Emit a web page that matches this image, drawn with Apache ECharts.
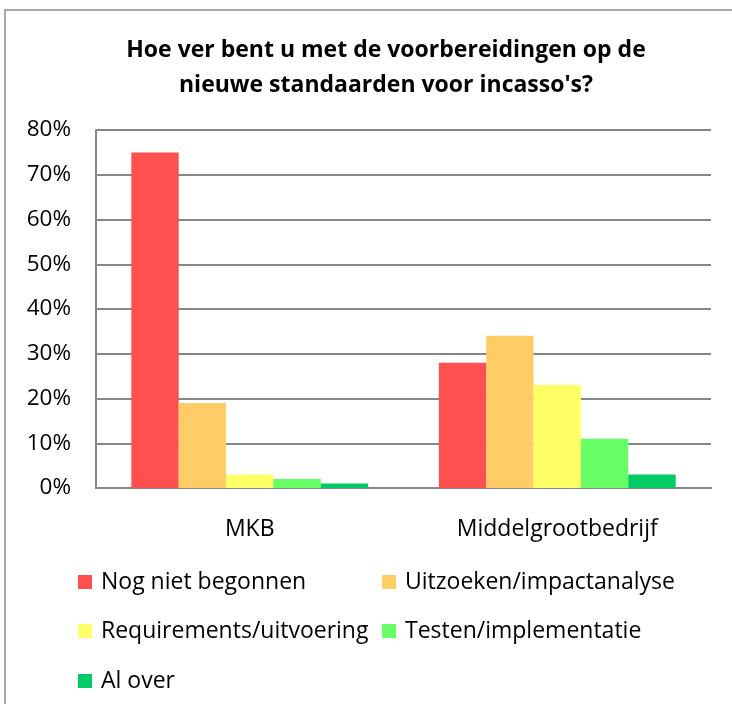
<!DOCTYPE html>
<html>
<head>
<meta charset="utf-8">
<script src="https://cdn.jsdelivr.net/npm/echarts@6/dist/echarts.min.js"></script>
<style>
  html, body { margin: 0; padding: 0; background: #fff; }
  #chart { width: 732px; height: 704px; }
</style>
</head>
<body>
<div id="chart"></div>
<script>
const categories = ['MKB', 'Middelgrootbedrijf']
const seriesNames = ['Nog niet begonnen', 'Uitzoeken/impactanalyse', 'Requirements/uitvoering', 'Testen/implementatie', 'Al over']
const nogNietBegonnen = [75, 28]
const uitzoeken = [19, 34]
const requirements = [3, 23]
const testen = [2, 11]
const alOver = [1, 3]
const colors = ['#FF5050', '#FFCC66', '#FFFF66', '#66FF66', '#00CC66']

const font = '"Open Sans", Lato, sans-serif'
const values = [nogNietBegonnen, uitzoeken, requirements, testen, alOver]

// legend positions, one box per entry (excel-style 2 columns)
const legendPos = [[78, 570], [382, 570], [78, 619], [382, 619], [78, 669]]

const chart = echarts.init(document.getElementById('chart'))
const options = {
  color: colors,
  animation: false,
  title: {
    text: 'Hoe ver bent u met de voorbereidingen op de\nnieuwe standaarden voor incasso\'s?',
    left: 381,
    textAlign: 'center',
    top: 28,
    textStyle: {
      fontFamily: font,
      fontWeight: 'bold',
      fontSize: 23,
      lineHeight: 35,
      color: '#000',
    },
  },
  graphic: [{
    type: 'rect',
    shape: { x: 5, y: 10, width: 800, height: 800 },
    style: { fill: 'none', stroke: '#8c8c8c', lineWidth: 1.5 },
    silent: true,
  }],
  legend: seriesNames.map((name, i) => ({
    data: [name],
    left: legendPos[i][0],
    top: legendPos[i][1],
    padding: 0,
    itemWidth: 14,
    itemHeight: 14,
    itemGap: 0,
    icon: 'rect',
    textStyle: { fontFamily: font, fontSize: 23, lineHeight: 24, color: '#000', padding: [0, 0, 0, 4] },
  })),
  grid: {
    left: 96,
    top: 130,
    right: 21,
    bottom: 216,
    containLabel: false,
  },
  xAxis: {
    type: 'category',
    data: categories,
    axisTick: { show: false },
    axisLine: { lineStyle: { color: '#878787', width: 2 } },
    axisLabel: { fontFamily: font, fontSize: 23, color: '#000', margin: 30 },
  },
  yAxis: {
    type: 'value',
    min: 0,
    max: 80,
    interval: 10,
    axisLine: { show: true, lineStyle: { color: '#878787', width: 2 } },
    axisTick: { show: false },
    splitLine: { lineStyle: { color: '#878787', width: 2 } },
    axisLabel: { fontFamily: font, fontSize: 22.5, color: '#000', margin: 25, formatter: '{value}%' },
  },
  series: seriesNames.map((name, i) => ({
    name,
    type: 'bar',
    data: values[i],
    barGap: '0%',
    barCategoryGap: '23%',
    itemStyle: { color: colors[i] },
  })),
}
chart.setOption(options, true)
</script>
</body>
</html>
